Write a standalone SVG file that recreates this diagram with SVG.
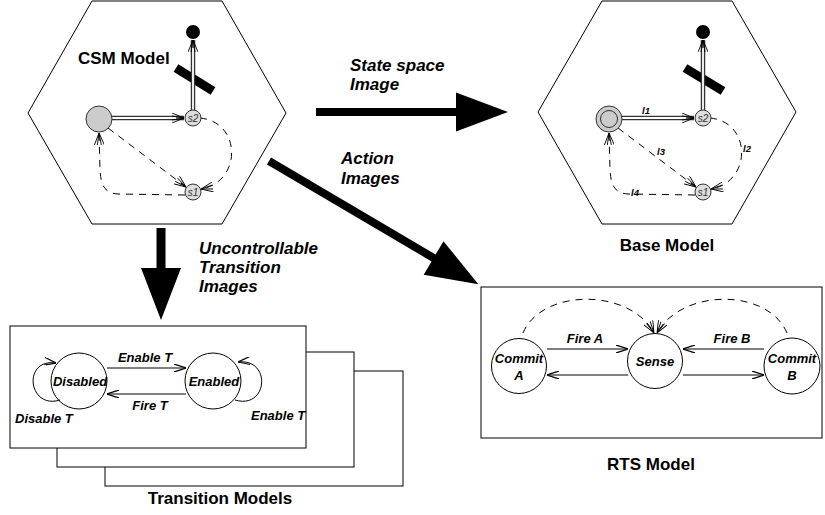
<svg xmlns="http://www.w3.org/2000/svg" width="825" height="515" viewBox="0 0 825 515">
<style>
.frame{fill:#fff;stroke:#000;stroke-width:1}
.st{fill:#fff;stroke:#000;stroke-width:1}
.tiny{fill:#ddd;stroke:#333;stroke-width:1}
.dash{fill:none;stroke:#000;stroke-width:1;stroke-dasharray:7,6}
.ln{fill:none;stroke:#000;stroke-width:1}
.dblo{fill:none;stroke:#333;stroke-width:4.5}
.dbli{fill:none;stroke:#fff;stroke-width:1.8}
.bar{stroke:#000;stroke-width:9}
.big{fill:#000}
.title{font-family:"Liberation Sans",Arial,sans-serif;font-weight:bold;font-size:17px;fill:#000}
.lbl{font-family:"Liberation Sans",Arial,sans-serif;font-weight:bold;font-style:italic;font-size:17px;fill:#000}
.sl{font-family:"Liberation Sans",Arial,sans-serif;font-weight:bold;font-style:italic;font-size:13px;fill:#000}
.ss{font-family:"Liberation Sans",Arial,sans-serif;font-style:italic;font-size:10px;fill:#333}
.ll{font-family:"Liberation Sans",Arial,sans-serif;font-weight:bold;font-style:italic;font-size:9.5px;fill:#000}
</style>
<defs>
<marker id="v" viewBox="0 0 12 8" refX="12" refY="4" markerWidth="12" markerHeight="8" markerUnits="userSpaceOnUse" orient="auto">
<path d="M0,0 L12,4 L0,8" fill="none" stroke="#000" stroke-width="1.2"/>
</marker>
<marker id="fan" viewBox="0 0 12 10" refX="12" refY="5" markerWidth="12" markerHeight="10" markerUnits="userSpaceOnUse" orient="auto">
<path d="M0,0 L12,5 L0,10 M0,3 L12,5 L0,7" fill="none" stroke="#000" stroke-width="0.9"/>
</marker>
</defs>

<!-- CSM Model -->
<g id="csm-model">
<polygon class="frame" points="92,1 222,1 286,113 222,224 92,224 28,113"/>
<text class="title" x="78" y="64">CSM Model</text>
<line class="bar" x1="176" y1="68" x2="213" y2="91"/>
<line class="dblo" x1="112" y1="118" x2="184" y2="118"/>
<line class="dbli" x1="112" y1="118" x2="184" y2="118"/>
<line class="ln" x1="176" y1="118" x2="184" y2="118" marker-end="url(#fan)"/>
<line class="dblo" x1="193" y1="110" x2="193" y2="40"/>
<line class="dbli" x1="193" y1="110" x2="193" y2="40"/>
<line class="ln" x1="193" y1="48" x2="193" y2="40" marker-end="url(#fan)"/>
<path class="dash" d="M108,128 L186,187" marker-end="url(#fan)"/>
<path class="dash" d="M200,118 C242,122 242,182 201,189" marker-end="url(#fan)"/>
<path class="dash" d="M185,195 L118,194 C104,193 101,185 100,170 L99,133" marker-end="url(#fan)"/>
<circle cx="99" cy="119" r="13" fill="#ccc" stroke="#333"/>
<circle class="tiny" cx="193" cy="118" r="8"/>
<text class="ss" x="193" y="121.5" text-anchor="middle">s2</text>
<circle class="tiny" cx="193" cy="192" r="8"/>
<text class="ss" x="193" y="195.5" text-anchor="middle">s1</text>
<circle cx="193" cy="32" r="7" fill="#000"/>
</g>

<!-- Base Model -->
<g id="base-model">
<polygon class="frame" points="602,1 732,1 796,112 732,224 602,224 538,112"/>
<line class="bar" x1="685" y1="68" x2="723" y2="91"/>
<line class="dblo" x1="622" y1="118" x2="694" y2="118"/>
<line class="dbli" x1="622" y1="118" x2="694" y2="118"/>
<line class="ln" x1="686" y1="118" x2="694" y2="118" marker-end="url(#fan)"/>
<line class="dblo" x1="703" y1="110" x2="703" y2="40"/>
<line class="dbli" x1="703" y1="110" x2="703" y2="40"/>
<line class="ln" x1="703" y1="48" x2="703" y2="40" marker-end="url(#fan)"/>
<path class="dash" d="M618,128 L696,187" marker-end="url(#fan)"/>
<path class="dash" d="M710,118 C752,122 752,182 711,189" marker-end="url(#fan)"/>
<path class="dash" d="M695,195 L628,194 C614,193 611,185 610,170 L609,133" marker-end="url(#fan)"/>
<circle cx="609" cy="119" r="13" fill="#ccc" stroke="#333"/>
<circle cx="609" cy="119" r="8.5" fill="#ccc" stroke="#333"/>
<circle class="tiny" cx="703" cy="118" r="8"/>
<text class="ss" x="703" y="121.5" text-anchor="middle">s2</text>
<circle class="tiny" cx="703" cy="192" r="8"/>
<text class="ss" x="703" y="195.5" text-anchor="middle">s1</text>
<circle cx="703" cy="32" r="7" fill="#000"/>
<text class="ll" x="646" y="114" text-anchor="middle">l1</text>
<text class="ll" x="747" y="152" text-anchor="middle">l2</text>
<text class="ll" x="661" y="155" text-anchor="middle">l3</text>
<text class="ll" x="635" y="196" text-anchor="middle">l4</text>
<text class="title" x="667" y="251" text-anchor="middle">Base Model</text>
</g>

<!-- Transition Models -->
<g id="transition-models">
<rect class="frame" x="105" y="371" width="298" height="115"/>
<rect class="frame" x="57" y="352" width="297" height="115"/>
<rect class="frame" x="10" y="326" width="296" height="122"/>
<text class="title" x="220" y="504" text-anchor="middle">Transition Models</text>
</g>
<g id="disabled">
<circle class="st" cx="79" cy="381" r="28"/>
<text class="sl" x="80" y="386" text-anchor="middle">Disabled</text>
</g>
<g id="enabled">
<circle class="st" cx="213" cy="381" r="28"/>
<text class="sl" x="214" y="386" text-anchor="middle">Enabled</text>
</g>

<!-- RTS Model -->
<g id="rts-model">
<rect class="frame" x="481" y="287" width="341" height="151"/>
<text class="title" x="651" y="470" text-anchor="middle">RTS Model</text>
</g>
<g id="commit-a">
<circle class="st" cx="519" cy="366" r="27.5"/>
<text class="sl" x="519" y="363" text-anchor="middle">Commit</text>
<text class="sl" x="519" y="380" text-anchor="middle">A</text>
</g>
<g id="sense">
<circle class="st" cx="655" cy="361" r="27.5"/>
<text class="sl" x="655" y="366" text-anchor="middle">Sense</text>
</g>
<g id="commit-b">
<circle class="st" cx="792" cy="366" r="28"/>
<text class="sl" x="792" y="363" text-anchor="middle">Commit</text>
<text class="sl" x="792" y="380" text-anchor="middle">B</text>
</g>

<!-- Connectors -->
<g id="connectors">
<line class="ln" x1="107" y1="368" x2="186" y2="368" marker-end="url(#v)"/>
<text class="sl" x="145" y="362" text-anchor="middle">Enable T</text>
<line class="ln" x1="186" y1="394" x2="107" y2="394" marker-end="url(#v)"/>
<text class="sl" x="150" y="410" text-anchor="middle">Fire T</text>
<path class="ln" d="M60,400 C28,410 22,358 56,363" marker-end="url(#v)"/>
<text class="sl" x="15" y="423">Disable T</text>
<path class="ln" d="M235,400 C268,410 272,358 238,362" marker-end="url(#v)"/>
<text class="sl" x="251" y="420">Enable T</text>

<line class="ln" x1="547" y1="349" x2="628" y2="349" marker-end="url(#v)"/>
<text class="sl" x="585" y="343" text-anchor="middle">Fire A</text>
<line class="ln" x1="628" y1="375" x2="547" y2="375" marker-end="url(#v)"/>
<line class="ln" x1="764" y1="349" x2="683" y2="349" marker-end="url(#v)"/>
<text class="sl" x="732" y="343" text-anchor="middle">Fire B</text>
<line class="ln" x1="683" y1="375" x2="764" y2="375" marker-end="url(#v)"/>
<path class="dash" d="M523,333 C542,288 630,288 654,333" marker-end="url(#fan)"/>
<path class="dash" d="M787,333 C768,288 682,288 657,333" marker-end="url(#fan)"/>

<polygon class="big" points="316,108 456,108 456,92.5 508,112 456,131.5 456,116 316,116"/>
<text class="lbl" x="350" y="71">State space</text>
<text class="lbl" x="350" y="90">Image</text>

<polygon class="big" transform="translate(269,161) rotate(30.5)" points="0,-4 191,-4 191,-19.5 243,0 191,19.5 191,4 0,4"/>
<text class="lbl" x="341" y="164">Action</text>
<text class="lbl" x="341" y="184">Images</text>

<polygon class="big" points="156.5,228 165.5,228 165.5,268 181,268 161,320 141,268 156.5,268"/>
<text class="lbl" x="199" y="254">Uncontrollable</text>
<text class="lbl" x="199" y="273">Transition</text>
<text class="lbl" x="199" y="292">Images</text>
</g>
</svg>
